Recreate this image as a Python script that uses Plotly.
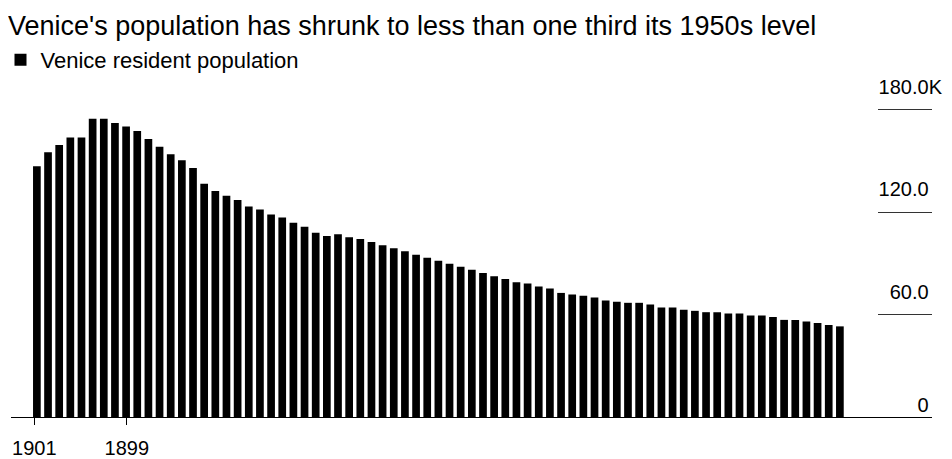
import plotly.graph_objects as go

# ---- data ----
bar_index = list(range(73))
population_k = [
    146.9, 155.1, 159.4, 163.7, 163.7, 174.7, 174.7, 172.2, 170.2, 167.5,
    162.9, 158.4, 153.9, 150.4, 145.9, 136.6, 132.4, 129.6, 127.1, 123.3,
    121.6, 118.6, 116.9, 113.8, 111.4, 108.0, 106.1, 107.1, 105.3, 104.3,
    102.5, 100.6, 98.8, 97.1, 95.1, 93.3, 91.6, 89.8, 88.0, 86.3,
    84.3, 82.5, 80.8, 79.0, 78.2, 76.5, 75.3, 72.7, 71.8, 71.0,
    70.0, 68.3, 67.5, 66.9, 66.9, 65.9, 64.1, 64.1, 62.9, 62.2,
    61.4, 61.4, 60.6, 60.6, 59.4, 59.4, 58.6, 56.9, 56.9, 55.9,
    55.1, 53.9, 53.1,
]
x_tick_positions = [-0.23, 8.06]
x_tick_labels = ["1901", "1899"]
y_tick_values = [60, 120, 180]
y_tick_numbers = ["60.0", "120.0", "180.0"]
y_zero_value = [0]
y_zero_label = ["0"]

FONT = "Liberation Sans, Arial, sans-serif"
hidden = "<span style='color:rgba(0,0,0,0)'>K</span>"
y_tick_labels = [t + ("K" if i == len(y_tick_numbers) - 1 else hidden)
                 for i, t in enumerate(y_tick_numbers)]
y_zero_text = [t + hidden for t in y_zero_label]

Y_RANGE = [0, 203.3]

fig = go.Figure()
fig.add_trace(go.Bar(
    x=bar_index, y=population_k, name="Venice resident population",
    marker=dict(color="#000000", line=dict(width=0)),
    showlegend=True,
))
# invisible helper trace so the second (zero-label) axis is rendered
fig.add_trace(go.Scatter(
    x=[bar_index[0]], y=[0], yaxis="y2", mode="markers",
    marker=dict(opacity=0), showlegend=False, hoverinfo="skip",
))

fig.update_layout(
    width=952, height=459,
    margin=dict(l=3, r=28, t=62, b=50, autoexpand=False),
    paper_bgcolor="white", plot_bgcolor="white",
    font=dict(family=FONT, color="#000000", size=18),
    bargap=0.31,
    title=dict(
        text="Venice's population has shrunk to less than one third its 1950s level",
        font=dict(family=FONT, size=27, color="#000000"),
        x=0, xref="container", xanchor="left",
        y=1 - 18 / 459, yref="container", yanchor="middle",
        pad=dict(l=0, r=0, t=0, b=0),
    ),
    showlegend=True,
    legend=dict(
        orientation="h",
        x=-10.5 / 921, xref="paper", xanchor="left",
        y=1 - 31 / 459, yref="container", yanchor="top",
        font=dict(family=FONT, size=22, color="#000000"),
        itemwidth=30,
        bgcolor="rgba(0,0,0,0)",
    ),
    xaxis=dict(
        range=[-2.32, 80.26],
        showgrid=False, zeroline=False,
        showline=True, linecolor="#000000", linewidth=1,
        ticks="outside", ticklen=7, tickcolor="#000000", tickwidth=1,
        tickmode="array", tickvals=x_tick_positions, ticktext=x_tick_labels,
        tickfont=dict(family=FONT, size=20, color="#000000"),
        ticklabelstandoff=6,
        fixedrange=True,
    ),
    yaxis=dict(
        range=Y_RANGE,
        side="right",
        showgrid=False, zeroline=False, showline=False,
        ticks="inside", ticklen=54, tickcolor="#333333", tickwidth=1.2,
        tickmode="array", tickvals=y_tick_values, ticktext=y_tick_labels,
        ticklabelposition="inside",
        ticklabelshift=-23,
        ticklabelstandoff=-63,
        tickfont=dict(family=FONT, size=20, color="#000000"),
        fixedrange=True,
    ),
    yaxis2=dict(
        range=Y_RANGE,
        overlaying="y", side="right", anchor="x",
        showgrid=False, zeroline=False, showline=False,
        ticks="inside", ticklen=54, tickcolor="rgba(0,0,0,0)", tickwidth=1,
        tickmode="array", tickvals=y_zero_value, ticktext=y_zero_text,
        ticklabelposition="inside",
        ticklabelshift=-12,
        ticklabelstandoff=-63,
        tickfont=dict(family=FONT, size=20, color="#000000"),
        fixedrange=True,
    ),
)

fig.write_html("out.html")
